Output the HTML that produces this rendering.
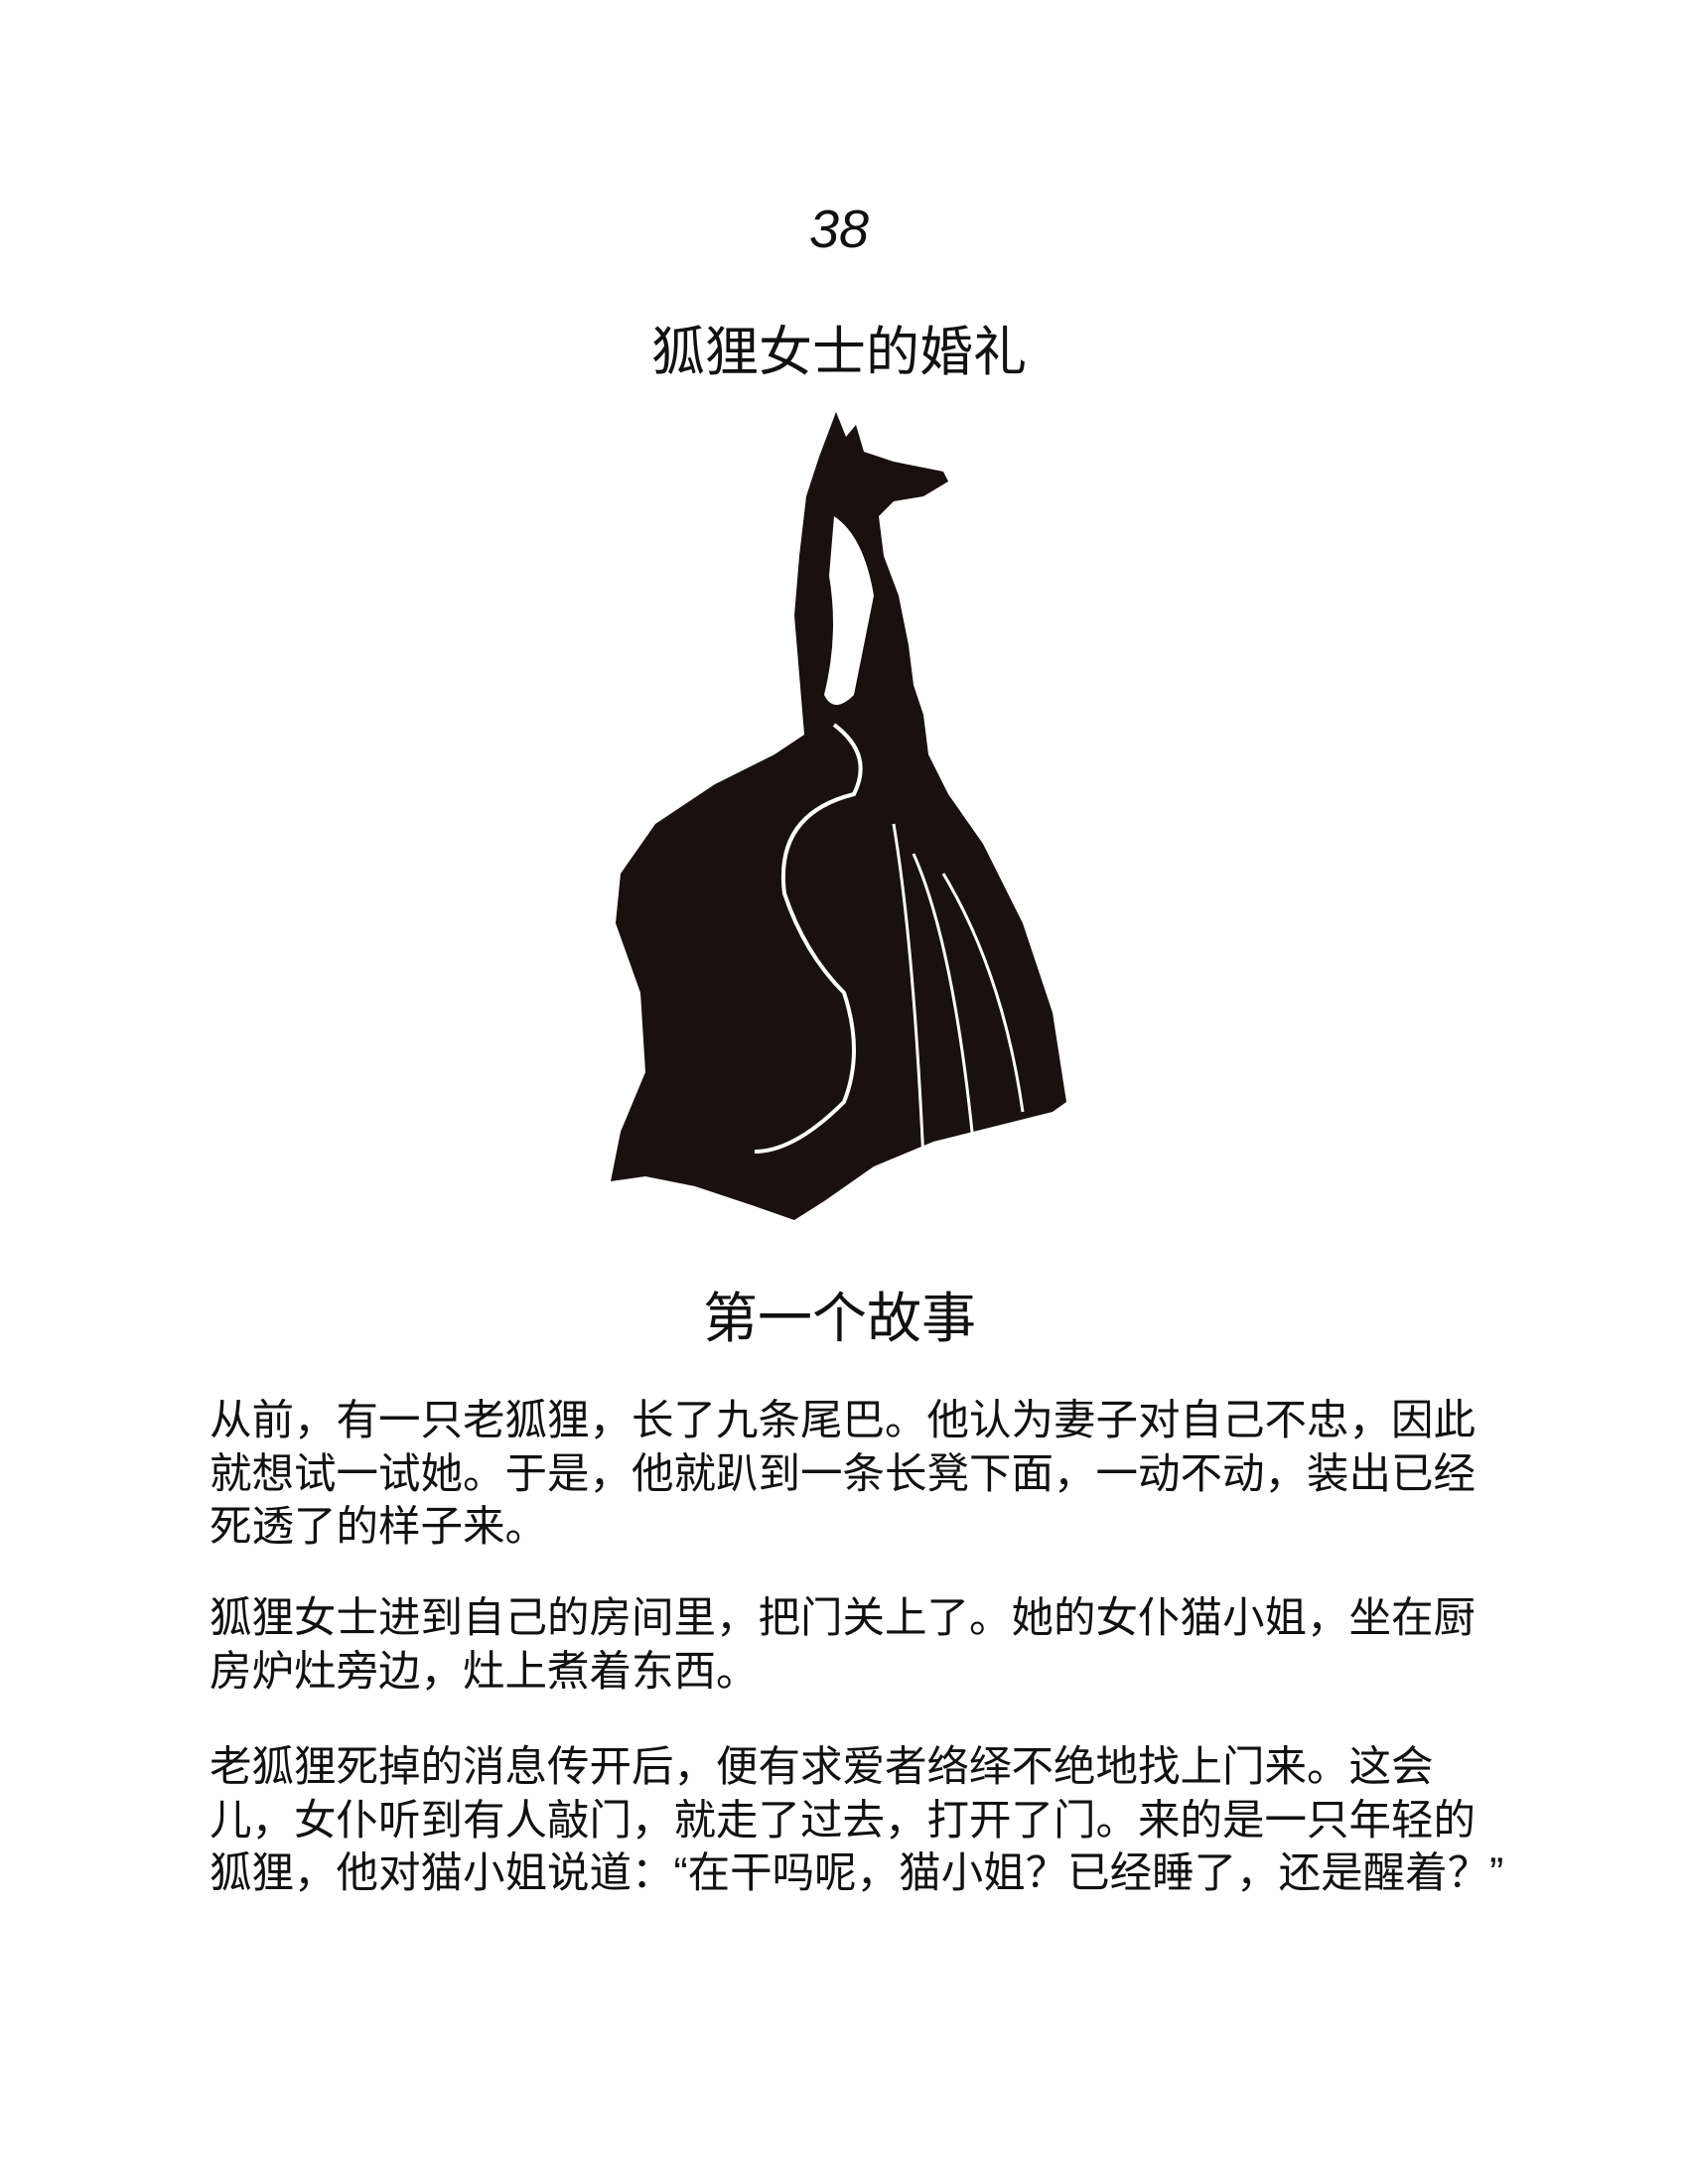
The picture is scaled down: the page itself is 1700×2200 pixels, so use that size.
<!DOCTYPE html>
<html><head><meta charset="utf-8"><style>
body{margin:0;width:1700px;height:2200px;background:#fff;position:relative;font-family:"Liberation Sans","Noto Sans CJK SC",sans-serif;color:#111}
.t{position:absolute;white-space:nowrap}
.p{position:absolute;left:211px;font-size:42.5px;line-height:53.5px;white-space:nowrap}
</style></head><body>
<div class="t" style="left:0;width:1690px;text-align:center;top:200px;font-size:54px;font-style:italic">38</div>
<div class="t" style="left:656px;top:310px;font-size:54px">狐狸女士的婚礼</div>
<svg style="position:absolute;left:0;top:0" width="1700" height="1300">
<path fill="#1a1010" d="M842 415 L852 440 L862 428 L870 455 L900 465 L950 475 L955 485 L930 500 L900 505 L885 520 L890 560 L905 600 L915 650 L920 690 L930 720 L935 760 L955 800 L990 850 L1030 930 L1060 1020 L1074 1110 L1060 1120 L1000 1135 L940 1150 L880 1175 L830 1210 L800 1229 L760 1215 L700 1195 L650 1185 L615 1190 L625 1140 L650 1080 L645 1000 L620 930 L625 880 L660 830 L720 790 L780 760 L810 740 L805 680 L800 620 L805 560 L812 500 L825 460 Z"/>
<path fill="none" stroke="#fff" stroke-width="4" d="M840 730 Q880 760 860 800 Q780 820 790 900 Q810 960 850 1000 Q870 1060 850 1110 Q800 1160 760 1160"/>
<path fill="none" stroke="#fff" stroke-width="3" d="M900 830 Q920 950 930 1170 M920 860 Q960 950 980 1150 M950 880 Q1010 980 1030 1120"/>
<path fill="#fff" d="M840 520 Q870 540 880 600 Q870 650 860 700 Q840 720 830 700 Q845 640 835 580 Z"/>
</svg>
<div class="t" style="left:708px;top:1283px;font-size:55px">第一个故事</div>
<div class="p" style="top:1405px">从前，有一只老狐狸，长了九条尾巴。他认为妻子对自己不忠，因此<br>就想试一试她。于是，他就趴到一条长凳下面，一动不动，装出已经<br>死透了的样子来。</div>
<div class="p" style="top:1604px">狐狸女士进到自己的房间里，把门关上了。她的女仆猫小姐，坐在厨<br>房炉灶旁边，灶上煮着东西。</div>
<div class="p" style="top:1754px">老狐狸死掉的消息传开后，便有求爱者络绎不绝地找上门来。这会<br>儿，女仆听到有人敲门，就走了过去，打开了门。来的是一只年轻的<br>狐狸，他对猫小姐说道：“在干吗呢，猫小姐？已经睡了，还是醒着？”</div>
</body></html>
